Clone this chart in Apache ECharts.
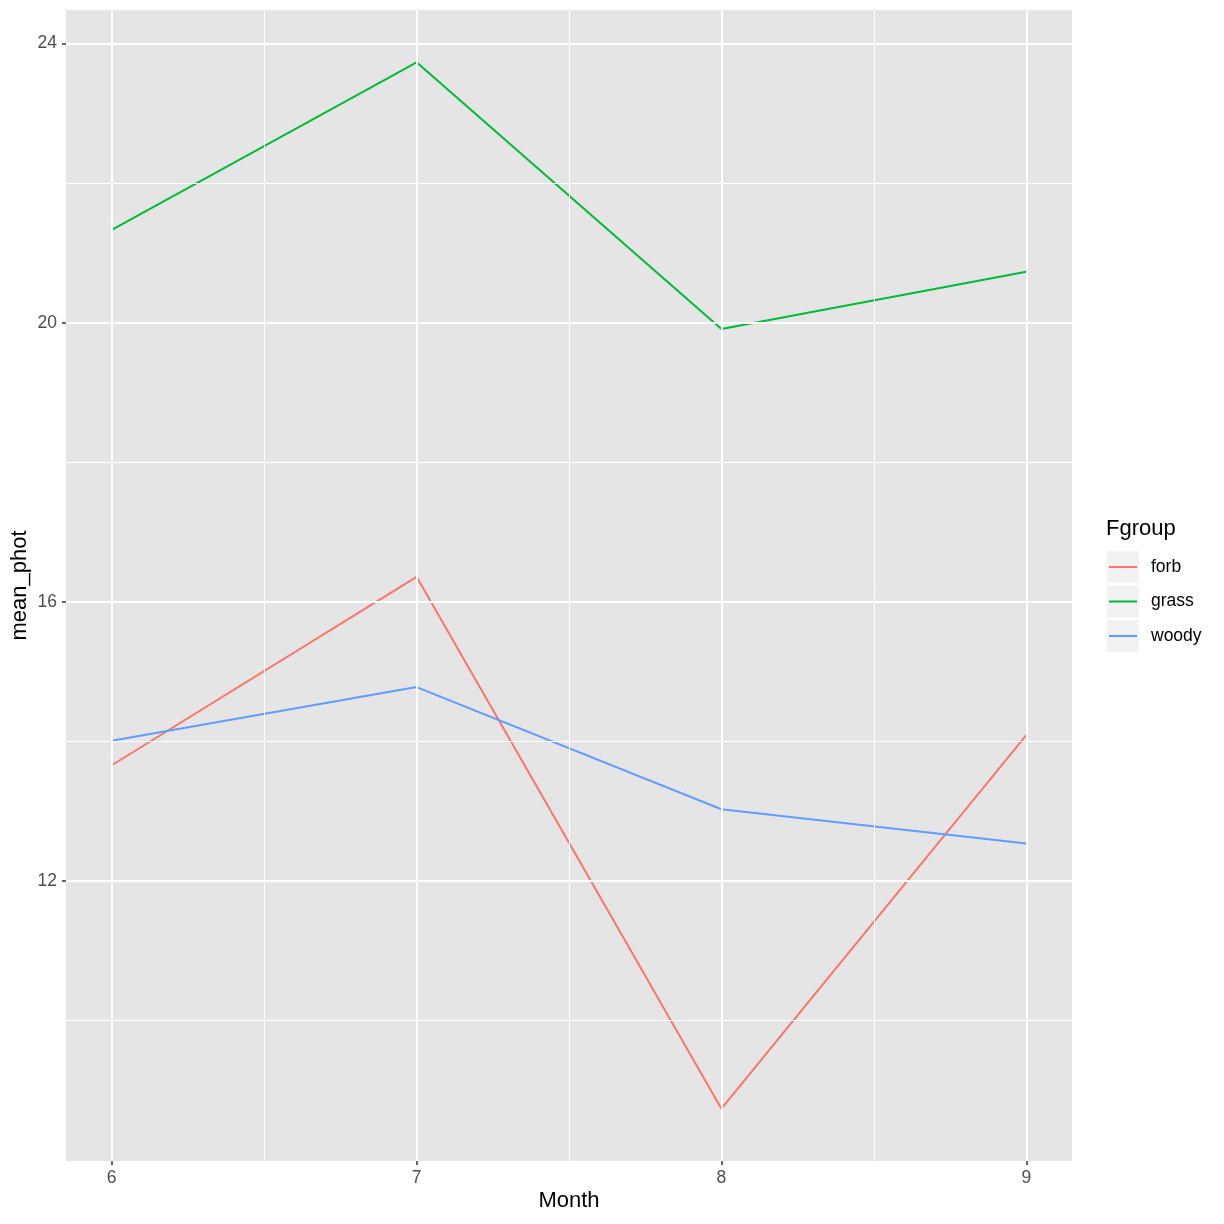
<!DOCTYPE html>
<html>
<head>
<meta charset="utf-8">
<script src="https://cdn.jsdelivr.net/npm/echarts@6/dist/echarts.min.js"></script>
<style>
html,body{margin:0;padding:0;background:#fff;}
#chart{width:1224px;height:1224px;}
</style>
</head>
<body>
<div id="chart"></div>
<script>
// ---- data ----
const months = [6, 7, 8, 9];
const forb  = [13.66, 16.36, 8.74, 14.09];
const grass = [21.33, 23.73, 19.91, 20.73];
const woody = [14.01, 14.78, 13.03, 12.54];
const groupNames = ['forb', 'grass', 'woody'];
const xTicks = [6, 7, 8, 9];
const yTicks = [12, 16, 20, 24];

const colors = ['#F8766D', '#00BA38', '#619CFF'];
const font = '"Liberation Sans", Arial, Helvetica, sans-serif';

function mid(arr) { const r = []; for (let i = 0; i < arr.length - 1; i++) r.push((arr[i] + arr[i+1]) / 2); return r; }
const xMinor = mid(xTicks);
const yMinor = [10].concat(mid(yTicks));

const chart = echarts.init(document.getElementById('chart'), null, {renderer: 'canvas'});

const gridLines = [];
yMinor.forEach(v => gridLines.push({yAxis: v, lineStyle: {width: 1}}));
xMinor.forEach(v => gridLines.push({xAxis: v, lineStyle: {width: 1}}));
yTicks.forEach(v => gridLines.push({yAxis: v, lineStyle: {width: 2}}));
xTicks.forEach(v => gridLines.push({xAxis: v, lineStyle: {width: 2}}));

const seriesData = [forb, grass, woody];
const series = [{
  type: 'line', name: '_grid', data: [], z: 1, silent: true,
  markLine: {
    silent: true, symbol: ['none', 'none'], animation: false,
    label: {show: false},
    emphasis: {disabled: true},
    lineStyle: {color: '#ffffff', type: 'solid', opacity: 1},
    data: gridLines
  }
}];
groupNames.forEach((g, i) => {
  series.push({
    type: 'line', name: g, z: 3,
    data: months.map((m, j) => [m, seriesData[i][j]]),
    symbol: 'none', showSymbol: false,
    lineStyle: {color: colors[i], width: 2},
    itemStyle: {color: colors[i]},
    emphasis: {disabled: true}
  });
});

chart.setOption({
  animation: false,
  backgroundColor: '#ffffff',
  grid: {left: 66, right: 152, top: 10, bottom: 63, show: true, backgroundColor: '#e5e5e5', borderWidth: 0,
         containLabel: false, outerBoundsMode: 'none'},
  title: {text: 'Fgroup', left: 1106, top: 518, padding: 0, textStyle: {fontFamily: font, fontSize: 22, fontWeight: 'normal', color: '#000'}},
  legend: {
    data: groupNames, orient: 'vertical', left: 1109, top: 551, padding: 0,
    icon: 'rect', itemWidth: 28, itemHeight: 2, itemGap: 2.5,
    textStyle: {fontFamily: font, fontSize: 17.5, color: '#000', lineHeight: 32, padding: [0, 0, 0, 9]},
    selectedMode: false
  },
  graphic: [0, 1, 2].map(i => ({
    type: 'rect', left: 1107, top: 551 + i * 34.5, z: 0,
    shape: {width: 32, height: 32}, style: {fill: '#f2f2f2'}
  })),
  xAxis: {
    type: 'value', min: 5.85, max: 9.15,
    name: 'Month', nameLocation: 'middle', nameGap: 29, nameMoveOverlap: false,
    nameTextStyle: {fontFamily: font, fontSize: 22, color: '#000'},
    axisLine: {show: false},
    axisTick: {show: true, length: 4, lineStyle: {color: '#333333', width: 1.5}, customValues: xTicks},
    axisLabel: {customValues: xTicks, fontFamily: font, fontSize: 17.5, color: '#4d4d4d', margin: 8},
    splitLine: {show: false}
  },
  yAxis: {
    type: 'value', min: 7.99, max: 24.48,
    name: 'mean_phot', nameLocation: 'middle', nameGap: 35, nameRotate: 90, nameMoveOverlap: false,
    nameTextStyle: {fontFamily: font, fontSize: 22, color: '#000'},
    axisLine: {show: false},
    axisTick: {show: true, length: 4, lineStyle: {color: '#333333', width: 1.5}, customValues: yTicks},
    axisLabel: {customValues: yTicks, fontFamily: font, fontSize: 17.5, color: '#4d4d4d', margin: 9},
    splitLine: {show: false}
  },
  series: series
});
</script>
</body>
</html>
